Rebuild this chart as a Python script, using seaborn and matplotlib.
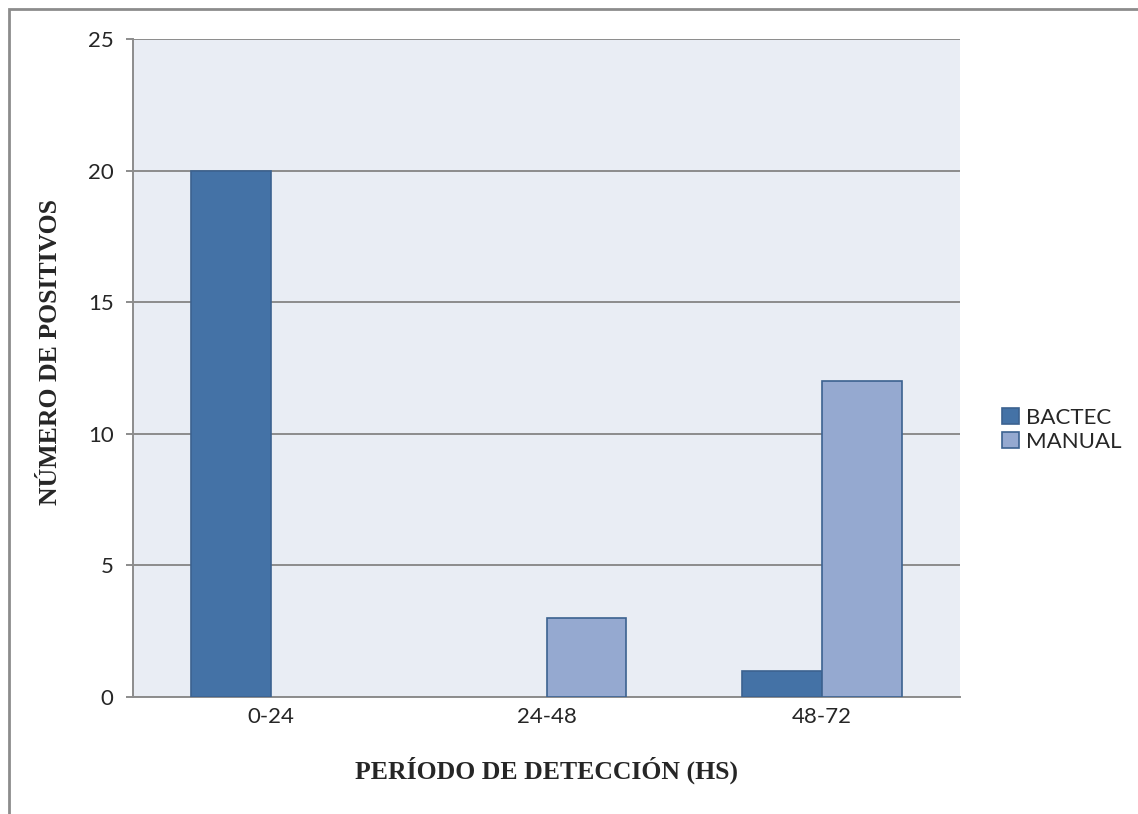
import matplotlib
matplotlib.use("Agg")
import matplotlib.pyplot as plt
import seaborn as sns
import pandas as pd
from matplotlib.patches import Rectangle

# Detection period categories and positive counts per method
periods = ["0-24", "24-48", "48-72"]
bactec = [20, 0, 1]
manual = [0, 3, 12]
methods = ["BACTEC", "MANUAL"]
yticks = [0, 5, 10, 15, 20, 25]

df = pd.DataFrame({
    "periodo": periods * 2,
    "metodo": [methods[0]] * 3 + [methods[1]] * 3,
    "positivos": bactec + manual,
})

sns.set_theme(style="white")
plt.rcParams["font.family"] = ["Lato", "DejaVu Sans"]

W, H = 1138, 814
fig = plt.figure(figsize=(W / 100, H / 100), dpi=100)
ax = fig.add_axes([133 / W, 1 - 697 / H, (960 - 133) / W, (697 - 39) / H])
ax.set_facecolor("#E9EDF4")

edge = "#3C6290"
palette = {"BACTEC": "#4472A6", "MANUAL": "#95A9D0"}
sns.barplot(data=df, x="periodo", y="positivos", hue="metodo",
            hue_order=methods, order=periods, palette=palette,
            width=0.58, edgecolor=edge, linewidth=1.2,
            saturation=1, ax=ax, zorder=3)

ax.set_ylim(0, 25)
ax.set_yticks(yticks)
ax.yaxis.grid(True, color="#8C8C8C", linewidth=1.4, zorder=1)
ax.set_axisbelow(True)
for s in ["top", "right"]:
    ax.spines[s].set_visible(False)
for s in ["left", "bottom"]:
    ax.spines[s].set_color("#8C8C8C")
    ax.spines[s].set_linewidth(1.4)
ax.tick_params(axis="y", length=5, width=1.4, color="#8C8C8C",
               labelsize=16, pad=9, left=True)
ax.tick_params(axis="x", length=0, labelsize=16, pad=7)

ax.set_xlabel("PERÍODO DE DETECCIÓN (HS)", fontfamily="Liberation Serif",
              fontweight="bold", fontsize=18.5)
ax.set_ylabel("NÚMERO DE POSITIVOS", fontfamily="Liberation Serif",
              fontweight="bold", fontsize=18.5)
ax.xaxis.set_label_coords(0.5, -0.111)
ax.yaxis.set_label_coords(-0.100, 0.525)
ax.xaxis.label.set_verticalalignment("center")
ax.yaxis.label.set_verticalalignment("center")

leg = ax.legend(loc="center left", bbox_to_anchor=(1.027, 0.406), frameon=False,
                fontsize=16, handlelength=0.75, handleheight=0.75,
                handletextpad=0.3, labelspacing=0.2)
for h in leg.legend_handles:
    h.set_edgecolor(edge)
    h.set_linewidth(1.2)

# empty bars should leave no outline on the baseline
for p in ax.patches:
    if p.get_height() == 0:
        p.set_linewidth(0)

# outer chart frame
fig.patches.append(Rectangle((9 / W, -0.1), 1.2, 1 - 9 / H + 0.1,
                             transform=fig.transFigure, fill=False,
                             edgecolor="#8C8C8C", linewidth=2))

fig.savefig("out.png", dpi=100)
